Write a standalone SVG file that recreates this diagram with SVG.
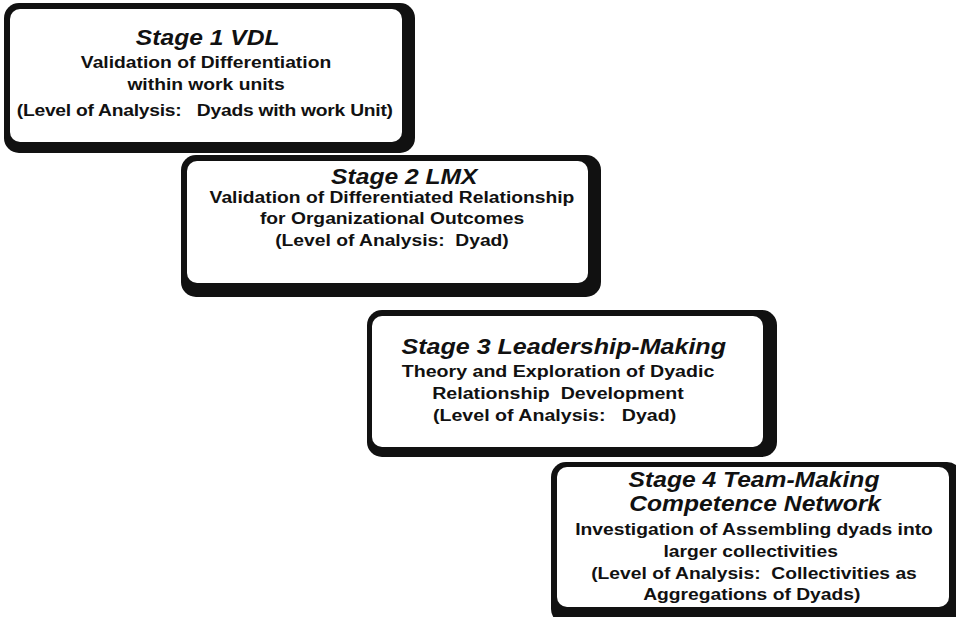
<svg xmlns="http://www.w3.org/2000/svg" width="956" height="617" viewBox="0 0 956 617">
<style>
.sh{fill:#111;}
.in{fill:#fff;}
text{font-family:"Liberation Sans",Arial,sans-serif;font-weight:bold;fill:#111;text-anchor:middle;white-space:pre;}
.t{font-size:22px;font-style:italic;}
.b{font-size:17.2px;}
</style>
<rect width="956" height="617" fill="#fff"/>
<g id="connectors"/>
<g id="stage1">
<rect class="sh" x="4" y="3" width="411" height="150" rx="15"/>
<rect class="in" x="10" y="9" width="392" height="133" rx="10"/>
<g transform="translate(206,0) scale(1.12,1)">
<text class="t" x="1.5" y="45">Stage 1 VDL</text>
<text class="b" x="0" y="68">Validation of Differentiation</text>
<text class="b" x="0" y="90">within work units</text>
<text class="b" x="-1" y="116" textLength="336" lengthAdjust="spacing">(Level of Analysis:   Dyads with work Unit)</text>
</g>
</g>
<g id="stage2">
<rect class="sh" x="181" y="155" width="420" height="142" rx="15"/>
<rect class="in" x="187" y="161" width="401" height="122" rx="10"/>
<g transform="translate(392,0) scale(1.12,1)">
<text class="t" x="11" y="184">Stage 2 LMX</text>
<text class="b" x="0" y="203">Validation of Differentiated Relationship</text>
<text class="b" x="0" y="224.5">for Organizational Outcomes</text>
<text class="b" x="0" y="246">(Level of Analysis:  Dyad)</text>
</g>
</g>
<g id="stage3">
<rect class="sh" x="367" y="310" width="410" height="147" rx="15"/>
<rect class="in" x="372" y="316" width="391" height="131" rx="10"/>
<g transform="translate(558,0) scale(1.14,1)">
<text class="t" x="5" y="354">Stage 3 Leadership-Making</text>
<text class="b" x="0" y="377">Theory and Exploration of Dyadic</text>
<text class="b" x="0" y="399.5">Relationship  Development</text>
<text class="b" x="-3" y="421.5">(Level of Analysis:   Dyad)</text>
</g>
</g>
<g id="stage4">
<rect class="sh" x="551" y="462" width="411" height="162" rx="15"/>
<rect class="in" x="557" y="467" width="392" height="140" rx="10"/>
<g transform="translate(754,0) scale(1.12,1)">
<text class="t" x="0" y="487">Stage 4 Team-Making</text>
<text class="t" x="1" y="511.5">Competence Network</text>
<text class="b" x="0" y="535.5">Investigation of Assembling dyads into</text>
<text class="b" x="-3" y="557.5">larger collectivities</text>
<text class="b" x="0" y="579">(Level of Analysis:  Collectivities as</text>
<text class="b" x="-2" y="600">Aggregations of Dyads)</text>
</g>
</g>
</svg>
